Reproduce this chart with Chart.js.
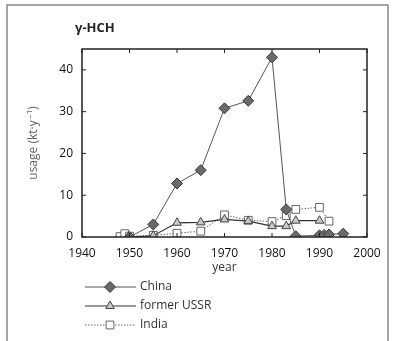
<!DOCTYPE html>
<html>
<head>
<meta charset="utf-8">
<script src="https://cdn.jsdelivr.net/npm/chart.js@4.4.1/dist/chart.umd.min.js"></script>
<style>
  html, body { margin: 0; padding: 0; background: #fff; }
</style>
</head>
<body>
<canvas id="myChart" width="394" height="341"></canvas>
<script>
// values (kt per year)
const chinaYears = [1950, 1955, 1960, 1965, 1970, 1975, 1980, 1983, 1985, 1990, 1991, 1992, 1995];
const chinaUsage = [0, 3.0, 12.8, 16.0, 30.8, 32.6, 43.0, 6.6, 0.2, 0.4, 0.5, 0.6, 0.8];

const ussrYears = [1950, 1955, 1960, 1965, 1970, 1975, 1980, 1983, 1985, 1990];
const ussrUsage = [0, 0.3, 3.4, 3.5, 4.2, 3.8, 2.6, 2.6, 3.9, 3.9];

const indiaYears = [1948, 1949, 1950, 1955, 1960, 1965, 1970, 1975, 1980, 1983, 1985, 1990, 1992];
const indiaUsage = [0.1, 0.8, 0.2, 0.4, 0.9, 1.4, 5.3, 4.0, 3.7, 5.1, 6.6, 7.1, 3.8];

const xTicks = [1940, 1950, 1960, 1970, 1980, 1990, 2000];
const yTicks = [0, 10, 20, 30, 40];

const toPoints = (xs, ys) => xs.map((x, i) => ({ x: x, y: ys[i] }));

const FONT = '"Open Sans", "DejaVu Sans", sans-serif';

// box round the plot, inward tick marks, heading and the line+marker legend
const frame = {
  id: 'frame',
  afterDraw(chart) {
    const { ctx, chartArea: a, scales: { x, y } } = chart;
    ctx.save();

    ctx.strokeStyle = '#888';
    ctx.lineWidth = 1.5;
    ctx.strokeRect(7, 5, 381, 350);

    ctx.strokeStyle = '#222';
    ctx.lineWidth = 1.5;
    ctx.strokeRect(a.left, a.top, a.right - a.left, a.bottom - a.top);

    ctx.lineWidth = 1;
    ctx.beginPath();
    x.ticks.forEach((t) => {
      const px = x.getPixelForValue(t.value);
      ctx.moveTo(px, a.bottom); ctx.lineTo(px, a.bottom - 4);
      ctx.moveTo(px, a.top); ctx.lineTo(px, a.top + 4);
    });
    y.ticks.forEach((t) => {
      const py = y.getPixelForValue(t.value);
      ctx.moveTo(a.left, py); ctx.lineTo(a.left + 4, py);
      ctx.moveTo(a.right, py); ctx.lineTo(a.right - 4, py);
    });
    ctx.stroke();

    ctx.fillStyle = '#222';
    ctx.font = 'bold 13px ' + FONT;
    ctx.textBaseline = 'middle';
    ctx.textAlign = 'left';
    ctx.fillText('γ-HCH', 75, 28);

    ctx.font = '12px ' + FONT;
    chart.data.datasets.forEach((ds, i) => {
      const ly = 287 + i * 19;
      ctx.strokeStyle = ds.borderColor;
      ctx.lineWidth = ds.borderWidth;
      ctx.setLineDash(ds.borderDash || []);
      ctx.beginPath();
      ctx.moveTo(85, ly);
      ctx.lineTo(136, ly);
      ctx.stroke();
      ctx.setLineDash([]);
      ctx.fillStyle = ds.pointBackgroundColor;
      ctx.strokeStyle = ds.pointBorderColor;
      ctx.lineWidth = 1;
      Chart.helpers.drawPoint(ctx, { pointStyle: ds.pointStyle, radius: ds.pointRadius, borderWidth: 1, rotation: 0 }, 110, ly);
      ctx.fillStyle = '#333';
      ctx.fillText(ds.label, 140, ly);
    });
    ctx.restore();
  }
};

const ctx = document.getElementById('myChart');

const myChart = new Chart(ctx, {
  type: 'scatter',
  plugins: [frame],
  data: {
    datasets: [
      {
        label: 'China',
        data: toPoints(chinaYears, chinaUsage),
        showLine: true,
        borderColor: '#555',
        borderWidth: 1,
        pointStyle: 'rectRot',
        pointRadius: 5.5,
        pointBackgroundColor: '#6a6a6a',
        pointBorderColor: '#3a3a3a',
        pointBorderWidth: 1,
      },
      {
        label: 'former USSR',
        data: toPoints(ussrYears, ussrUsage),
        showLine: true,
        borderColor: '#333',
        borderWidth: 1.2,
        pointStyle: 'triangle',
        pointRadius: 5,
        pointBackgroundColor: '#c8c8c8',
        pointBorderColor: '#444',
        pointBorderWidth: 1,
      },
      {
        label: 'India',
        data: toPoints(indiaYears, indiaUsage),
        showLine: true,
        borderColor: '#666',
        borderWidth: 1,
        borderDash: [1.5, 1.5],
        pointStyle: 'rect',
        pointRadius: 5.5,
        pointBackgroundColor: '#fff',
        pointBorderColor: '#666',
        pointBorderWidth: 1,
      },
    ],
  },
  options: {
    responsive: false,
    animation: false,
    devicePixelRatio: 1,
    layout: {
      padding: { top: 49, right: 27, bottom: 0, left: 0 },
    },
    plugins: {
      legend: { display: false },
      tooltip: { enabled: false },
    },
    scales: {
      x: {
        type: 'linear',
        min: 1940,
        max: 2000,
        afterBuildTicks: (s) => { s.ticks = xTicks.map((v) => ({ value: v })); },
        afterFit: (s) => { s.height = 104; },
        grid: { display: false, drawTicks: false },
        border: { display: false },
        ticks: {
          padding: 9,
          color: '#111',
          font: { size: 12, family: FONT },
          maxRotation: 0,
          callback: (v) => String(v),
        },
        title: {
          display: true,
          text: 'year',
          color: '#333',
          font: { size: 12, family: FONT },
          padding: { top: 0, bottom: 66 },
        },
      },
      y: {
        min: 0,
        max: 45,
        afterBuildTicks: (s) => { s.ticks = yTicks.map((v) => ({ value: v })); },
        afterFit: (s) => { s.width = 82; },
        grid: { display: false, drawTicks: false },
        border: { display: false },
        ticks: {
          padding: 9,
          color: '#111',
          font: { size: 12, family: FONT },
        },
        title: {
          display: true,
          text: 'usage (kt·y⁻¹)',
          color: '#666',
          font: { size: 12, family: FONT },
          padding: { top: 26, bottom: 0 },
        },
      },
    },
  },
});
</script>
</body>
</html>
